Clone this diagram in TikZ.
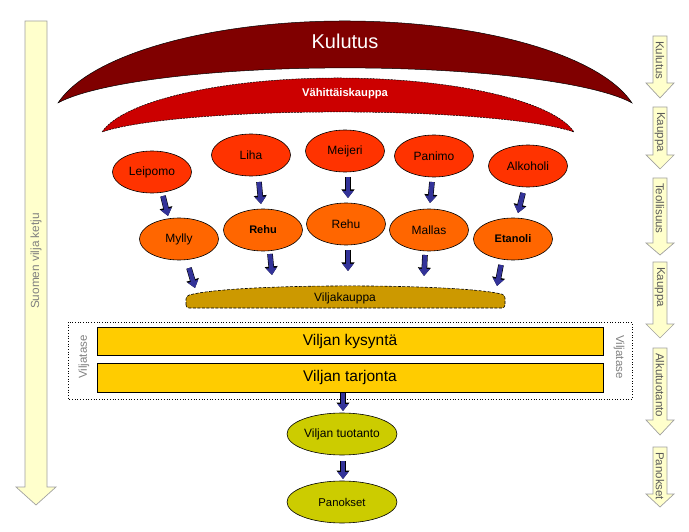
\documentclass[tikz,border=0pt]{standalone}
\usepackage{fontspec}
\setmainfont{Liberation Sans}
\usetikzlibrary{shapes.geometric,arrows.meta}
\definecolor{cKul}{HTML}{800000}
\definecolor{cVah}{HTML}{CC0000}
\definecolor{cInd}{HTML}{FF3300}
\definecolor{cProc}{HTML}{FF6600}
\definecolor{cVk}{HTML}{CC9900}
\definecolor{cBox}{HTML}{FFCC00}
\definecolor{cBot}{HTML}{CCCC00}
\definecolor{cBlue}{HTML}{333399}
\definecolor{cLy}{HTML}{FFFFCC}
\definecolor{cLg}{HTML}{A0A0A0}
\definecolor{cTg}{HTML}{5A5A5A}
\definecolor{cTl}{HTML}{808080}
\newcommand\yarr[5]{%
  \draw[lyarrow] (653,#1) -- (667,#1) -- (667,#2) -- (674,#2) -- (660,#3) -- (646,#2) -- (653,#2) -- cycle;
  \node[rtext] (#5) at (660,#1+5) {#4};}
\begin{document}
\begin{tikzpicture}[x=1pt,y=-1pt,
  ell/.style={ellipse, draw=black, line width=0.6pt, minimum width=79pt, minimum height=42pt, inner sep=0pt, font=\fontsize{12}{14}\selectfont},
  indnode/.style={ell, fill=cInd},
  procnode/.style={ell, fill=cProc},
  botnode/.style={ell, fill=cBot, minimum width=110pt},
  ybox/.style={draw=black, line width=0.8pt, fill=cBox, inner sep=0pt, minimum width=506pt, font=\fontsize{15.5}{18}\selectfont},
  barrow/.style={draw=cBlue, line width=4.5pt, -{Triangle[width=10.5pt,length=7pt]},
     preaction={draw=black, line width=5.6pt, -{Triangle[width=12.5pt,length=8.5pt]}}},
  lyarrow/.style={fill=cLy, draw=cLg, line width=0.7pt},
  rtext/.style={rotate=-90, anchor=west, inner sep=0pt, text=cTg, font=\fontsize{11.5}{13}\selectfont},
  sidetext/.style={inner sep=0pt, text=cTl, font=\fontsize{11.5}{13}\selectfont},
]
\useasboundingbox (0,0) rectangle (689,532);

% left big arrow
\draw[lyarrow] (25,21) -- (47,21) -- (47,487) -- (56,487) -- (36,505) -- (16,487) -- (25,487) -- cycle;
\node[sidetext, rotate=90, font=\fontsize{11.8}{13}\selectfont] (ketju) at (36,261) {Suomen vilja ketju};

% right arrows
\yarr{36}{83}{98}{Kulutus}{r1}
\yarr{107}{155}{169}{Kauppa}{r2}
\yarr{178}{243}{255}{Teollisuus}{r3}
\yarr{262}{324}{338}{Kauppa}{r4}
\yarr{348}{420}{435}{Alkutuotanto}{r5}
\yarr{447}{494}{507}{Panokset}{r6}

% Kulutus crescent
\draw[fill=cKul, draw=black, line width=0.5pt]
  (345,127.6) ++(-166.6:295 and 106.6)
  arc[start angle=-166.6, end angle=-13.4, x radius=295, y radius=106.6]
  arc[start angle=-16.95, end angle=-163.05, x radius=300, y radius=49.4] -- cycle;
\node[text=white, inner sep=0pt, font=\fontsize{20}{24}\selectfont] (kulutus) at (345,41) {Kulutus};

% Vahittaiskauppa crescent
\draw[fill=cVah, draw=black, line width=0.5pt, dashed, dash pattern=on 2pt off 1pt]
  (338,144) ++(-169.5:240 and 66)
  arc[start angle=-169.5, end angle=-10.5, x radius=240, y radius=66]
  arc[start angle=-19.3, end angle=-160.7, x radius=250, y radius=29.9] -- cycle;
\node[text=white, inner sep=0pt, font=\bfseries\fontsize{11.2}{13}\selectfont] (vah) at (345,94) {Vähittäiskauppa};

% industry
\node[indnode] (leipomo) at (152,172) {Leipomo};
\node[indnode] (liha) at (251,155) {Liha};
\node[indnode] (meijeri) at (345,151) {Meijeri};
\node[indnode] (panimo) at (434,156) {Panimo};
\node[indnode] (alkoholi) at (528,166) {Alkoholi};

\node[procnode] (mylly) at (179,239) {Mylly};
\node[procnode, font=\bfseries\fontsize{11}{13}\selectfont] (rehu1) at (263,230) {Rehu};
\node[procnode] (rehu2) at (346,224) {Rehu};
\node[procnode] (mallas) at (429,230) {Mallas};
\node[procnode, font=\bfseries\fontsize{11}{13}\selectfont] (etanoli) at (513,239) {Etanoli};

% Viljakauppa
\draw[fill=cVk, draw=black, line width=0.6pt, dashed, dash pattern=on 3pt off 1.5pt, rounded corners=3pt]
  (186,308) -- (186,296) .. controls (230,283) and (460,283) .. (505,295) -- (505,308) -- cycle;
\node[inner sep=0pt, font=\fontsize{12}{14}\selectfont] (vk) at (345,298) {Viljakauppa};

% Viljatase
\draw[dotted, line width=0.7pt] (68,322) rectangle (632,399);
\node[ybox, minimum height=28pt] (kysynta) at (350,341) {Viljan kysyntä};
\node[ybox, minimum height=29pt] (tarjonta) at (350,377.5) {Viljan tarjonta};
\node[sidetext, rotate=90] (vt1) at (84,357) {Viljatase};
\node[sidetext, rotate=-90] (vt2) at (619,357) {Viljatase};

% bottom
\node[botnode] (tuotanto) at (342,434) {Viljan tuotanto};
\node[botnode, font=\fontsize{11.3}{13}\selectfont] (panokset) at (342,502) {Panokset};

% blue arrow coordinates
\coordinate (a1s) at (163,196); \coordinate (a1e) at (168,216);
\coordinate (a2s) at (259,182); \coordinate (a2e) at (261,204);
\coordinate (a3s) at (348,177); \coordinate (a3e) at (348,198);
\coordinate (a4s) at (432,182); \coordinate (a4e) at (430,203);
\coordinate (a5s) at (523,193); \coordinate (a5e) at (518,213);
\coordinate (b1s) at (189,268); \coordinate (b1e) at (195,288);
\coordinate (b2s) at (270,254); \coordinate (b2e) at (272,275);
\coordinate (b3s) at (348,250); \coordinate (b3e) at (348,271);
\coordinate (b4s) at (425,255); \coordinate (b4e) at (424,276);
\coordinate (b5s) at (501,265); \coordinate (b5e) at (497,286);
\coordinate (c1s) at (343,393); \coordinate (c1e) at (343,411);
\coordinate (c2s) at (343,461); \coordinate (c2e) at (343,479);
\foreach \s/\e in {a1s/a1e,a2s/a2e,a3s/a3e,a4s/a4e,a5s/a5e,b1s/b1e,b2s/b2e,b3s/b3e,b4s/b4e,b5s/b5e,c1s/c1e,c2s/c2e}
  \draw[barrow] (\s) -- (\e);
\end{tikzpicture}
\end{document}
